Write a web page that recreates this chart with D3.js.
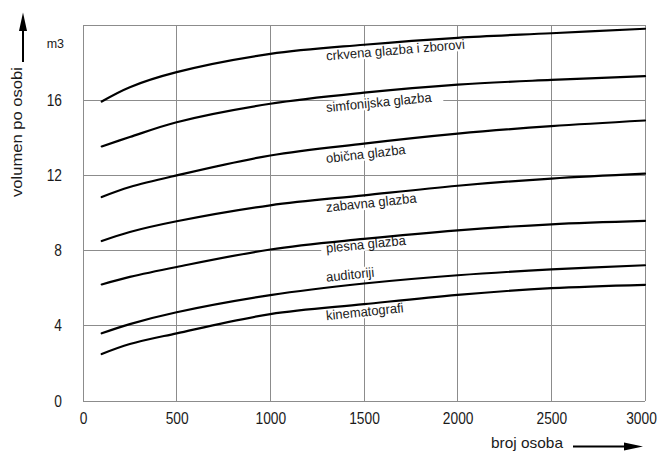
<!DOCTYPE html>
<html><head><meta charset="utf-8">
<script src="https://cdn.jsdelivr.net/npm/d3@7"></script>
<style>
html,body{margin:0;padding:0;background:#fff;}
text{font-family:Arial,"Liberation Sans",sans-serif;fill:#1a1a1a;}
</style></head>
<body><svg id="chart" width="661" height="453"></svg>
<script>
// ---- data ----
const xTicks = [0, 500, 1000, 1500, 2000, 2500, 3000];
const yTicks = [0, 4, 8, 12, 16];
const persons = [100, 250, 500, 1000, 1500, 2000, 2500, 3000];
const crkvena       = [15.93, 16.69, 17.49, 18.46, 18.95, 19.32, 19.56, 19.80];
const simfonijska   = [13.54, 14.04, 14.83, 15.81, 16.40, 16.83, 17.08, 17.28];
const obicna        = [10.85, 11.38, 12.00, 13.06, 13.69, 14.22, 14.62, 14.92];
const zabavna       = [8.51, 8.99, 9.56, 10.41, 10.94, 11.45, 11.83, 12.09];
const plesna        = [6.20, 6.60, 7.13, 8.06, 8.62, 9.08, 9.40, 9.58];
const auditoriji    = [3.60, 4.09, 4.72, 5.63, 6.25, 6.69, 7.00, 7.22];
const kinematografi = [2.50, 3.03, 3.60, 4.62, 5.15, 5.65, 6.00, 6.18];
const seriesNames = ["crkvena glazba i zborovi", "simfonijska glazba", "obična glazba",
  "zabavna glazba", "plesna glazba", "auditoriji", "kinematografi"];
const seriesValues = [crkvena, simfonijska, obicna, zabavna, plesna, auditoriji, kinematografi];
const yUnit = "m3";
const yTitle = "volumen po osobi";
const xTitle = "broj osoba";

// ---- layout ----
const labelAt = 1300;                       // data x where labels start
const labelDy = [12, 15, 14.7, 12.7, 9.6, -6.5, 12]; // px offset of label baseline from curve

const svg = d3.select("#chart");
const x = d3.scaleLinear().domain([0, 3000]).range([83, 645]);
const y = d3.scaleLinear().domain([0, 20]).range([401, 25]);
const gridColor = "#8c8c8c";

// grid
const grid = svg.append("g").attr("shape-rendering", "crispEdges")
  .attr("stroke", gridColor).attr("stroke-width", 1);
grid.selectAll("line.v").data(xTicks).join("line")
  .attr("x1", d => x(d)).attr("x2", d => x(d)).attr("y1", y(20)).attr("y2", y(0));
grid.selectAll("line.h").data(yTicks.concat([20])).join("line")
  .attr("y1", d => y(d)).attr("y2", d => y(d)).attr("x1", x(0)).attr("x2", x(3000));

// axes
function squeeze(sel, f) {
  sel.each(function () {
    const L = this.getComputedTextLength();
    d3.select(this).attr("textLength", L * f).attr("lengthAdjust", "spacingAndGlyphs");
  });
}
const xAxis = svg.append("g").attr("transform", `translate(0,${y(0)})`)
  .call(d3.axisBottom(x).tickValues(xTicks).tickSize(0).tickPadding(12).tickFormat(d3.format("d")));
xAxis.select(".domain").remove();
xAxis.selectAll("text").attr("font-size", 16).attr("font-family", "Arial,'Liberation Sans',sans-serif")
  .attr("fill", "#1a1a1a").attr("dy", "0.71em")
  .attr("dx", d => d === 3000 ? -4 : 0);
squeeze(xAxis.selectAll("text"), 0.86);

const yAxis = svg.append("g").attr("transform", `translate(${x(0)},0)`)
  .call(d3.axisLeft(y).tickValues(yTicks).tickSize(0).tickPadding(21).tickFormat(d3.format("d")));
yAxis.select(".domain").remove();
yAxis.selectAll("text").attr("font-size", 16).attr("font-family", "Arial,'Liberation Sans',sans-serif")
  .attr("fill", "#1a1a1a");
squeeze(yAxis.selectAll("text"), 0.86);

// unit
svg.append("text").attr("x", 64).attr("y", 48).attr("text-anchor", "end")
  .attr("font-size", 12.5).text(yUnit);

// y title + arrow
svg.append("text").attr("transform", "translate(22,197) rotate(-90)")
  .attr("font-size", 15).attr("textLength", 130).attr("lengthAdjust", "spacingAndGlyphs")
  .text(yTitle);
svg.append("line").attr("x1", 23).attr("x2", 23).attr("y1", 62).attr("y2", 28)
  .attr("stroke", "#000").attr("stroke-width", 2);
svg.append("path").attr("d", "M23,12.5 L19,31 L27,31 Z").attr("fill", "#000");

// x title + arrow
svg.append("text").attr("x", 491).attr("y", 448).attr("font-size", 15)
  .attr("textLength", 72).attr("lengthAdjust", "spacingAndGlyphs").text(xTitle);
svg.append("line").attr("x1", 573).attr("x2", 628).attr("y1", 446.5).attr("y2", 446.5)
  .attr("stroke", "#000").attr("stroke-width", 2);
svg.append("path").attr("d", "M643,446.5 L624,442.5 L624,450.5 Z").attr("fill", "#000");

// labels (with white masking box)
const labels = svg.append("g");
seriesValues.forEach((vals, i) => {
  const f = d3.scaleLinear().domain(persons).range(vals);
  const px0 = x(labelAt), py0 = y(f(labelAt));
  const px1 = x(labelAt + 500), py1 = y(f(labelAt + 500));
  const ang = Math.atan2(py1 - py0, px1 - px0) * 180 / Math.PI;
  const g = labels.append("g")
    .attr("transform", `translate(${px0},${py0 + labelDy[i]}) rotate(${ang})`);
  const rect = g.append("rect").attr("fill", "#fff");
  const t = g.append("text").attr("x", 0).attr("y", 0).attr("font-size", 13.5)
    .text(seriesNames[i]);
  squeeze(t, 0.96);
  const bb = t.node().getBBox();
  rect.attr("x", bb.x - 5).attr("y", bb.y + 1).attr("width", bb.width + 16).attr("height", bb.height - 2);
});

// curves
const line = d3.line().x((d, j) => x(persons[j])).y(d => y(d)).curve(d3.curveCatmullRom.alpha(0.5));
svg.append("g").selectAll("path").data(seriesValues).join("path")
  .attr("d", line).attr("fill", "none").attr("stroke", "#000")
  .attr("stroke-width", 2.2).attr("stroke-linecap", "round");
</script></body></html>
